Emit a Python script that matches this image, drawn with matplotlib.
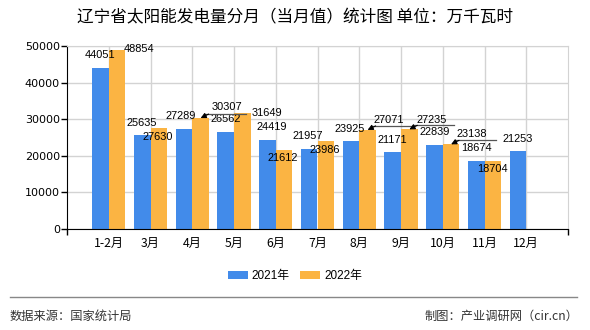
import matplotlib.pyplot as plt
from matplotlib.lines import Line2D
import numpy as np

months = ['1-2月', '3月', '4月', '5月', '6月', '7月', '8月', '9月', '10月', '11月', '12月']
values_2021 = [44051, 25635, 27289, 26562, 24419, 21957, 23925, 21171, 22839, 18674, 21253]
values_2022 = [48854, 27630, 30307, 31649, 21612, 23986, 27071, 27235, 23138, 18704]

# label offsets in pixels from the top centre of each bar, plus whether a pointer is drawn
off_2021 = [(0, 13), (0, 12), (-3, 13), (0, 13), (4, 13), (-1, 13), (-1, 12), (0, 12), (0, 13), (0, 13), (0, 12)]
off_2022 = [(22, 1), (-1, -9), (26, 11), (25, 0), (-1, -8), (-1, -9), (21, 10), (22, 9), (21, 10), (0, -8)]
arrow_2022 = [False, False, True, False, False, False, True, True, True, False]

blue = '#428BEA'
orange = '#FBB443'
num_font = ['Liberation Sans', 'Noto Sans CJK SC']
cjk_font = ['Noto Sans CJK SC', 'DejaVu Sans']
px = 0.72  # points per pixel at dpi 100

fig = plt.figure(figsize=(5.9, 3.3), dpi=100)
ax = fig.add_axes([67 / 590, 1 - 229 / 330, 501 / 590, 183 / 330])

x = np.arange(1, len(months) + 1)
w = 0.4
bars21 = ax.bar(x - w / 2, values_2021, width=w, color=blue, label='2021年', zorder=2)
bars22 = ax.bar(x[:len(values_2022)] + w / 2, values_2022, width=w, color=orange, label='2022年', zorder=2)

ax.set_xlim(0, 12)
ax.set_ylim(0, 50000)
ax.set_yticks(range(0, 50001, 10000))
ax.set_xticks(x)
ax.set_xticklabels(months, fontfamily=cjk_font, fontsize=8.8)
for lab in ax.get_yticklabels():
    lab.set_fontfamily('DejaVu Sans')
    lab.set_fontsize(8)
ax.tick_params(axis='x', length=0, pad=6)
ax.tick_params(axis='y', length=4, width=1, pad=1)
ax.set_xticks([0, 12], minor=True)
ax.tick_params(axis='x', which='minor', length=4, width=1)

ax.grid(True, color='#d3d3d3', linewidth=1, zorder=0)
ax.spines['left'].set_color('black')
ax.spines['bottom'].set_color('black')
ax.spines['right'].set_color('#d3d3d3')
ax.spines['top'].set_color('#d3d3d3')

# pixel sizes in data units
px_x = 12 / 501
px_y = 50000 / 183

for xi, v, (dx, dy) in zip(x, values_2021, off_2021):
    ax.annotate(str(v), (xi - w / 2, v), xytext=(dx * px, dy * px), textcoords='offset points',
                ha='center', va='center', fontsize=7.9, fontfamily=num_font, zorder=4)

for xi, v, (dx, dy), arr in zip(x, values_2022, off_2022, arrow_2022):
    cx = xi + w / 2
    ax.annotate(str(v), (cx, v), xytext=(dx * px, dy * px), textcoords='offset points',
                ha='center', va='center', fontsize=7.9, fontfamily=num_font, zorder=4)
    if arr:
        # pointer: a short rule under the label ending in an arrowhead at the bar top
        ax.plot([cx + 4 * px_x, cx + 45 * px_x], [v + 4 * px_y] * 2, color='#555555',
                lw=0.9, zorder=4, clip_on=False)
        ax.annotate('', (cx, v), xytext=(8 * px, 4 * px), textcoords='offset points',
                    arrowprops=dict(arrowstyle='-|>', color='black', lw=0.8,
                                    mutation_scale=8, shrinkA=0, shrinkB=0), zorder=5)

fig.text(0.5, 1 - 18 / 330, '辽宁省太阳能发电量分月（当月值）统计图 单位：万千瓦时',
         ha='center', va='center', fontsize=12, fontfamily=cjk_font)

fig.legend(handles=[bars21, bars22], loc='center', bbox_to_anchor=(0.5, 1 - 276 / 330),
           ncol=2, frameon=False, prop={'family': num_font, 'size': 8.5},
           handlelength=1.7, handleheight=0.75, handletextpad=0.35, columnspacing=0.9)

fig.add_artist(Line2D([10 / 590, 577 / 590], [1 - 297 / 330] * 2, color='#888888', lw=1,
                      transform=fig.transFigure))
fig.text(10 / 590, 1 - 316 / 330, '数据来源：国家统计局', ha='left', va='center',
         fontsize=8.8, fontfamily=cjk_font, color='#333333')
fig.text(578 / 590, 1 - 316 / 330, '制图：产业调研网（cir.cn）', ha='right', va='center',
         fontsize=8.8, fontfamily=cjk_font, color='#333333')

fig.savefig('out.png', dpi=100)
